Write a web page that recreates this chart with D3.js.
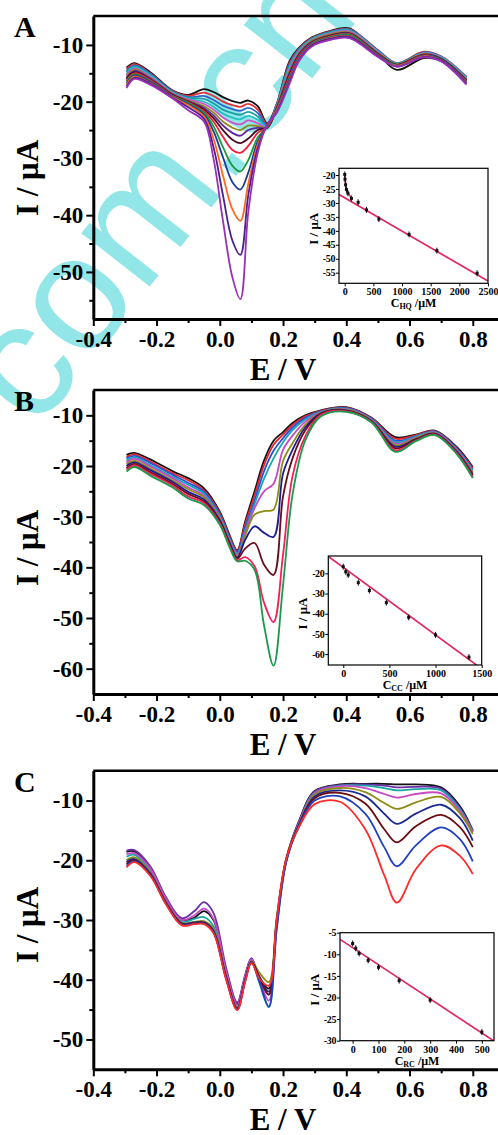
<!DOCTYPE html>
<html>
<head>
<meta charset="utf-8">
<script src="https://cdnjs.cloudflare.com/ajax/libs/d3/7.8.5/d3.min.js"></script>
<style>
  body { margin: 0; background: #fff; }
  text { font-family: "Liberation Serif", "Times New Roman", serif; font-weight: bold; }
</style>
</head>
<body>
<script>
// ---------- data ----------

// panel A : HQ
var eA = [-0.295, -0.27, -0.22, -0.15, -0.10, -0.05, -0.02, 0.01, 0.04, 0.065, 0.09, 0.12, 0.15, 0.18, 0.22, 0.25, 0.29, 0.35, 0.41, 0.50, 0.56, 0.645, 0.70, 0.78];
var iA = [
  [-14.0,-13.2,-14.8,-18.0,-18.8,-17.8,-18.3,-19.2,-19.9,-20.2,-19.8,-20.8,-23.8,-20.4,-12.9,-10.5,-8.7,-7.5,-7.1,-11.6,-14.4,-12.3,-12.8,-16.6],
  [-14.3,-13.4,-15.0,-18.1,-19.0,-18.4,-19.0,-20.0,-20.6,-20.9,-20.4,-21.4,-24.0,-20.5,-13.2,-10.7,-8.8,-7.6,-7.2,-10.9,-13.2,-11.2,-12.0,-15.6],
  [-14.6,-13.6,-15.1,-18.2,-19.2,-19.0,-19.7,-20.7,-21.3,-21.6,-21.1,-22.0,-24.2,-20.6,-13.5,-10.8,-8.9,-7.7,-7.3,-11.0,-13.2,-11.3,-12.1,-15.7],
  [-14.8,-13.8,-15.3,-18.3,-19.3,-19.5,-20.3,-21.4,-22.0,-22.3,-21.8,-22.6,-24.4,-20.7,-13.8,-11.0,-9.0,-7.8,-7.4,-11.1,-13.3,-11.4,-12.2,-15.8],
  [-15.1,-14.0,-15.4,-18.4,-19.5,-20.0,-20.9,-22.1,-22.8,-23.1,-22.5,-23.2,-24.5,-20.8,-14.1,-11.2,-9.1,-7.9,-7.5,-11.2,-13.3,-11.5,-12.2,-15.9],
  [-15.3,-14.2,-15.6,-18.5,-19.6,-20.4,-21.4,-22.8,-23.7,-24.0,-23.3,-23.8,-24.6,-20.9,-14.4,-11.3,-9.2,-8.0,-7.6,-11.3,-13.4,-11.5,-12.3,-16.0],
  [-15.6,-14.4,-15.8,-18.6,-19.8,-20.8,-21.9,-23.5,-24.6,-25.0,-24.2,-24.3,-24.6,-21.0,-14.7,-11.5,-9.3,-8.1,-7.8,-11.4,-13.4,-11.6,-12.4,-16.1],
  [-15.8,-14.6,-15.9,-18.7,-19.9,-21.1,-22.4,-24.2,-25.5,-26.0,-25.0,-24.6,-24.6,-21.1,-15.0,-11.7,-9.5,-8.3,-7.9,-11.5,-13.5,-11.7,-12.4,-16.2],
  [-16.0,-14.8,-16.1,-18.8,-20.0,-21.4,-22.9,-25.0,-26.7,-27.3,-26.5,-25.0,-24.6,-21.2,-15.3,-11.8,-9.6,-8.4,-8.0,-11.6,-13.5,-11.7,-12.5,-16.3],
  [-16.3,-15.0,-16.2,-18.9,-20.1,-21.7,-23.5,-26.2,-28.5,-29.0,-27.8,-25.5,-24.5,-21.3,-15.6,-12.0,-9.7,-8.5,-8.1,-11.7,-13.6,-11.8,-12.6,-16.4],
  [-16.5,-15.2,-16.4,-19.0,-20.2,-22.0,-24.3,-28.0,-31.3,-32.3,-30.3,-26.3,-24.4,-21.4,-15.9,-12.2,-9.8,-8.6,-8.2,-11.8,-13.6,-11.9,-12.6,-16.5],
  [-16.8,-15.4,-16.5,-19.1,-20.4,-22.3,-25.2,-29.8,-34.2,-35.5,-32.5,-27.0,-24.3,-21.5,-16.1,-12.3,-9.9,-8.7,-8.4,-11.9,-13.7,-11.9,-12.7,-16.6],
  [-17.0,-15.6,-16.7,-19.2,-20.6,-22.6,-26.5,-33.0,-39.0,-41.0,-34.5,-27.6,-24.2,-21.6,-16.4,-12.5,-10.0,-8.8,-8.5,-12.0,-13.7,-12.0,-12.8,-16.7],
  [-17.3,-15.8,-16.8,-19.3,-21.0,-23.0,-28.0,-36.5,-44.5,-47.0,-36.5,-28.2,-24.1,-21.8,-16.6,-12.7,-10.1,-8.9,-8.6,-12.0,-13.8,-12.1,-12.8,-16.8],
  [-17.6,-16.0,-17.0,-19.4,-21.5,-23.5,-30.0,-41.0,-51.0,-54.8,-39.5,-29.0,-24.0,-22.0,-16.9,-12.9,-10.3,-9.1,-8.8,-12.1,-13.8,-12.2,-12.9,-17.0]
];
var colorsA = ["#111111", "#e0303a", "#2a6ad0", "#1a9fa5", "#22c0c0", "#d050c8", "#8a8a1a", "#5a2a9a",
  "#4a0a20", "#f0203a", "#1a9a3a", "#1a3a9a", "#ff6a20", "#50208a", "#9a30b8"];

// panel B : CC
var eB = [-0.295, -0.27, -0.22, -0.15, -0.10, -0.05, 0.0, 0.03, 0.055, 0.08, 0.11, 0.14, 0.17, 0.20, 0.23, 0.27, 0.32, 0.40, 0.48, 0.555, 0.62, 0.68, 0.75, 0.80];
var iB = [
  [-17.8,-17.4,-18.7,-21.0,-22.4,-24.4,-29.0,-33.5,-36.6,-31.0,-25.0,-18.9,-15.0,-13.3,-11.5,-10.0,-9.0,-8.4,-10.5,-14.3,-13.8,-13.0,-16.3,-20.2],
  [-18.2,-17.7,-19.1,-21.4,-22.8,-24.8,-29.3,-33.8,-36.8,-31.5,-25.8,-19.8,-15.8,-13.8,-11.9,-10.2,-9.1,-8.5,-10.6,-14.6,-13.9,-13.1,-16.5,-20.4],
  [-18.5,-18.0,-19.4,-21.7,-23.3,-25.1,-29.6,-34.0,-37.0,-32.2,-26.8,-21.0,-17.0,-14.5,-12.4,-10.5,-9.2,-8.6,-10.7,-15.0,-14.1,-13.2,-16.6,-20.7],
  [-18.9,-18.3,-19.8,-22.1,-23.7,-25.5,-29.9,-34.3,-37.3,-32.8,-27.5,-22.5,-18.5,-15.3,-12.9,-10.8,-9.3,-8.7,-10.8,-15.3,-14.2,-13.3,-16.8,-20.9],
  [-19.3,-18.6,-20.1,-22.4,-24.2,-25.9,-30.2,-34.6,-37.6,-33.3,-28.3,-25.0,-23.5,-16.8,-14.0,-11.3,-9.4,-8.8,-10.9,-15.6,-14.4,-13.4,-16.9,-21.2],
  [-19.6,-19.0,-20.5,-22.8,-24.6,-26.2,-30.4,-34.8,-37.9,-33.8,-29.6,-28.9,-28.6,-19.0,-15.5,-11.9,-9.5,-8.9,-11.0,-15.9,-14.5,-13.5,-17.1,-21.4],
  [-20.0,-19.3,-20.8,-23.1,-25.1,-26.6,-30.7,-35.0,-38.1,-34.6,-31.9,-33.2,-34.0,-21.5,-16.8,-12.4,-9.6,-9.0,-11.1,-16.2,-14.7,-13.6,-17.2,-21.7],
  [-20.4,-19.6,-21.2,-23.5,-25.5,-27.0,-31.0,-35.3,-38.3,-36.3,-35.2,-39.5,-41.5,-26.0,-18.5,-13.0,-9.7,-9.1,-11.2,-16.5,-14.8,-13.7,-17.4,-21.9],
  [-20.7,-19.9,-21.5,-23.8,-26.0,-27.3,-31.3,-35.6,-38.6,-38.0,-39.8,-47.0,-50.8,-37.5,-22.0,-14.2,-9.9,-9.2,-11.3,-16.9,-15.0,-13.8,-17.5,-22.2],
  [-21.1,-20.2,-21.9,-24.2,-26.4,-27.7,-31.6,-35.9,-38.8,-38.7,-40.5,-51.5,-59.4,-43.5,-25.7,-15.0,-10.2,-9.3,-11.4,-17.2,-15.1,-13.9,-17.7,-22.4]
];
var colorsB = ["#111111", "#e8252a", "#2850d8", "#1aa5b5", "#c848c8", "#8c8c14", "#1c1c96", "#6a0c1c", "#f0205a", "#1a9a4a"];

// panel C : RC
var eC = [-0.295, -0.27, -0.22, -0.17, -0.12, -0.08, -0.05, -0.02, 0.02, 0.055, 0.08, 0.10, 0.125, 0.155, 0.18, 0.21, 0.25, 0.30, 0.38, 0.46, 0.52, 0.56, 0.62, 0.70, 0.76, 0.80];
var iC = [
  [-18.6,-18.5,-21.3,-26.5,-30.0,-29.6,-28.5,-30.0,-38.5,-44.0,-39.5,-36.6,-39.5,-41.5,-30.0,-19.8,-13.5,-8.4,-7.3,-7.2,-7.2,-7.3,-7.3,-7.8,-11.0,-15.0],
  [-18.4,-18.3,-21.0,-26.2,-29.7,-28.5,-27.0,-28.8,-38.0,-43.8,-39.2,-36.4,-39.8,-42.5,-30.5,-20.0,-13.7,-8.5,-7.4,-7.3,-7.5,-7.8,-7.7,-8.0,-11.3,-15.1],
  [-19.4,-19.1,-21.8,-26.8,-30.3,-29.8,-29.5,-31.0,-39.0,-44.5,-39.8,-36.8,-40.5,-44.6,-31.5,-20.3,-13.9,-8.7,-7.5,-7.5,-7.9,-8.3,-8.1,-8.3,-11.5,-15.2],
  [-19.0,-18.8,-21.4,-26.5,-30.0,-29.2,-28.1,-29.8,-38.5,-44.2,-39.5,-36.6,-40.0,-43.5,-31.0,-20.1,-13.8,-8.8,-7.6,-7.9,-8.9,-9.5,-8.9,-8.8,-11.8,-15.3],
  [-20.0,-19.5,-22.0,-27.0,-30.5,-30.3,-30.2,-31.5,-39.3,-44.7,-40.0,-36.9,-38.8,-40.4,-29.5,-19.7,-14.0,-9.0,-7.9,-8.6,-10.4,-11.4,-10.3,-9.4,-12.2,-15.6],
  [-20.3,-19.8,-22.2,-27.1,-30.6,-30.4,-30.4,-31.8,-39.5,-44.8,-40.1,-37.0,-39.5,-42.0,-30.2,-19.9,-14.1,-9.3,-8.3,-9.3,-12.2,-13.9,-12.2,-10.7,-13.0,-16.7],
  [-20.6,-20.0,-22.4,-27.2,-30.7,-30.5,-30.5,-32.0,-39.7,-44.9,-40.2,-37.0,-39.7,-42.5,-30.5,-20.0,-14.2,-9.6,-8.7,-10.5,-14.8,-17.0,-14.3,-12.4,-14.5,-17.8],
  [-20.9,-20.2,-22.5,-27.3,-30.8,-30.6,-30.6,-32.1,-39.8,-45.0,-40.3,-37.1,-40.3,-44.5,-31.5,-20.3,-14.3,-10.0,-9.3,-12.2,-17.8,-21.0,-17.5,-14.5,-16.5,-20.2],
  [-21.2,-20.3,-22.6,-27.4,-30.9,-30.7,-30.7,-32.2,-40.0,-45.1,-40.4,-37.2,-39.8,-41.0,-29.8,-19.8,-14.5,-10.6,-10.2,-14.8,-22.5,-27.1,-21.5,-17.5,-19.3,-22.3]
];
var colorsC = ["#111111", "#6a30a8", "#1aa5a5", "#c848c8", "#8c8c14", "#1c2a90", "#6a0c10", "#2040c0", "#ff2a2a"];

// axis ticks of the big panels
var xTicks = [-0.4, -0.2, 0.0, 0.2, 0.4, 0.6, 0.8];
var xMinor = [-0.3, -0.1, 0.1, 0.3, 0.5, 0.7];
var yTicksA = [-10, -20, -30, -40, -50];
var yMinorA = [-15, -25, -35, -45, -55];
var yTicksB = [-10, -20, -30, -40, -50, -60];
var yMinorB = [-15, -25, -35, -45, -55];
var yTicksC = [-10, -20, -30, -40, -50];
var yMinorC = [-15, -25, -35, -45];

// insets (calibration plots)
var hqConc = [117, 234, 380, 596, 1123, 1608, 2310];
var hqCurrent = [-28.4, -29.8, -32.5, -35.8, -41.3, -47.1, -55.2];
var hqLowConc = [0, 5, 15, 30, 55];
var hqLowCurrent = [-19.8, -21.5, -23.5, -25.2, -26.5];
var hqLowFitConc = [0, 10, 25, 50, 80, 120];
var hqLowFitCurrent = [-19.5, -22.5, -24.5, -26.0, -27.2, -28.2];
var hqFitConc = [-100, 2500];
var hqFitCurrent = [-27.0, -58.0];
var hqXTicks = [0, 500, 1000, 1500, 2000, 2500];
var hqYTicks = [-20, -25, -30, -35, -40, -45, -50, -55];

var ccConc = [0, 27, 54, 163, 283, 467, 709, 1000, 1362];
var ccCurrent = [-16.7, -19.2, -20.8, -24.6, -28.5, -34.5, -41.8, -50.5, -61.5];
var ccFitConc = [-162, 1450];
var ccFitCurrent = [-11.6, -65.6];
var ccXTicks = [0, 500, 1000, 1500];
var ccYTicks = [-20, -30, -40, -50, -60];

var rcConc = [0, 12, 25, 60, 100, 180, 300, 500];
var rcCurrent = [-7.5, -8.6, -9.8, -11.4, -13.0, -16.1, -20.6, -28.0];
var rcFitConc = [-50, 545];
var rcFitCurrent = [-6.5, -30.0];
var rcXTicks = [0, 100, 200, 300, 400, 500];
var rcYTicks = [-5, -10, -15, -20, -25, -30];

// ---------- drawing ----------
var W = 498, H = 1135;
var svg = d3.select("body").append("svg").attr("width", W).attr("height", H);
svg.append("rect").attr("width", W).attr("height", H).attr("fill", "#fff");

// watermark of the source page
svg.append("text")
  .attr("transform", "translate(36,432) rotate(-52)")
  .attr("font-size", 164)
  .style("font-family", "'Liberation Sans', Arial, sans-serif")
  .style("font-weight", "normal")
  .attr("fill", "#92e6e8")
  .text("com.cn");

var fit = "#e0285e";
var clipId = 0;

function drawPanel(p) {
  var x = d3.scaleLinear().domain([-0.4, 0.9]).range([93.3, 504.4]);
  var y = d3.scaleLinear().domain(p.yDomain).range([p.bottom, p.top]);
  var g = svg.append("g");

  var line = d3.line()
    .x(function(d) { return x(d[0]); })
    .y(function(d) { return y(d[1]); })
    .curve(d3.curveCatmullRom.alpha(0.5));

  g.selectAll("path.curve")
    .data(p.curves)
    .enter().append("path")
    .attr("class", "curve")
    .attr("d", function(c) {
      return line(p.e.map(function(e, i) { return [e, c[i]]; }));
    })
    .attr("fill", "none")
    .attr("stroke", function(c, i) { return p.colors[i]; })
    .attr("stroke-width", 1.8);

  // top frame line
  g.append("line")
    .attr("x1", x(-0.4)).attr("x2", W)
    .attr("y1", p.top).attr("y2", p.top)
    .attr("stroke", "#000").attr("stroke-width", 2.5);

  // x axis
  var gx = g.append("g")
    .attr("transform", "translate(0," + p.bottom + ")")
    .call(d3.axisBottom(x).tickValues(xTicks).tickSize(7).tickSizeOuter(0)
      .tickFormat(function(d) { return d.toFixed(1); }));
  gx.attr("font-size", 23);
  gx.select(".domain").attr("stroke-width", 3);
  gx.selectAll(".tick line").attr("stroke-width", 2);
  gx.selectAll(".tick text").attr("y", 28).attr("dy", null).attr("fill", "#000");

  g.append("g")
    .attr("transform", "translate(0," + p.bottom + ")")
    .call(d3.axisBottom(x).tickValues(xMinor).tickSize(4).tickFormat(""))
    .call(function(s) { s.select(".domain").remove(); })
    .selectAll(".tick line").attr("stroke-width", 2);

  // y axis
  var gy = g.append("g")
    .attr("transform", "translate(" + x(-0.4) + ",0)")
    .call(d3.axisLeft(y).tickValues(p.yTicks).tickSize(7).tickSizeOuter(0)
      .tickFormat(function(d) { return String(d); }));
  gy.attr("font-size", 23);
  gy.select(".domain").attr("stroke-width", 3);
  gy.selectAll(".tick line").attr("stroke-width", 2);
  gy.selectAll(".tick text").attr("x", -10).attr("fill", "#000");

  g.append("g")
    .attr("transform", "translate(" + x(-0.4) + ",0)")
    .call(d3.axisLeft(y).tickValues(p.yMinor).tickSize(4).tickFormat(""))
    .call(function(s) { s.select(".domain").remove(); })
    .selectAll(".tick line").attr("stroke-width", 2);

  // titles
  g.append("text")
    .attr("x", 283).attr("y", p.bottom + 61)
    .attr("text-anchor", "middle").attr("font-size", 31)
    .text("E / V");

  g.append("text")
    .attr("transform", "translate(38," + p.labelY + ") rotate(-90)")
    .attr("text-anchor", "middle").attr("font-size", 31)
    .text("I / \u03bcA");

  g.append("text")
    .attr("x", 14).attr("y", p.top + 21)
    .attr("font-size", 30)
    .text(p.letter);
}

function drawInset(q) {
  var x = d3.scaleLinear().domain(q.xDomain).range([q.left, q.right]);
  var y = d3.scaleLinear().domain(q.yDomain).range([q.bottom, q.top]);
  var g = svg.append("g");
  var id = "clip" + (clipId++);

  g.append("clipPath").attr("id", id)
    .append("rect")
    .attr("x", q.left).attr("y", q.top)
    .attr("width", q.right - q.left).attr("height", q.bottom - q.top);

  g.append("rect")
    .attr("x", q.left).attr("y", q.top)
    .attr("width", q.right - q.left).attr("height", q.bottom - q.top)
    .attr("fill", "#fff");

  var line = d3.line()
    .x(function(d) { return x(d[0]); })
    .y(function(d) { return y(d[1]); });

  var plot = g.append("g").attr("clip-path", "url(#" + id + ")");

  q.fits.forEach(function(f) {
    plot.append("path")
      .attr("d", line.curve(f.smooth ? d3.curveCatmullRom : d3.curveLinear)(f.x.map(function(v, i) { return [v, f.y[i]]; })))
      .attr("fill", "none").attr("stroke", fit).attr("stroke-width", 1.7);
  });

  q.points.forEach(function(s) {
    var pts = s.x.map(function(v, i) { return [v, s.y[i]]; });
    plot.selectAll(null).data(pts).enter().append("line")
      .attr("x1", function(d) { return x(d[0]); })
      .attr("x2", function(d) { return x(d[0]); })
      .attr("y1", function(d) { return y(d[1]) - 3; })
      .attr("y2", function(d) { return y(d[1]) + 3; })
      .attr("stroke", "#111").attr("stroke-width", 1);
    plot.selectAll(null).data(pts).enter().append("rect")
      .attr("x", function(d) { return x(d[0]) - 1.5; })
      .attr("y", function(d) { return y(d[1]) - 1.5; })
      .attr("width", 3).attr("height", 3)
      .attr("fill", "#111");
  });

  g.append("rect")
    .attr("x", q.left).attr("y", q.top)
    .attr("width", q.right - q.left).attr("height", q.bottom - q.top)
    .attr("fill", "none").attr("stroke", "#000").attr("stroke-width", 1.2);

  var gx = g.append("g")
    .attr("transform", "translate(0," + q.bottom + ")")
    .call(d3.axisBottom(x).tickValues(q.xTicks).tickSize(3).tickSizeOuter(0)
      .tickFormat(function(d) { return String(d); }));
  gx.attr("font-size", 10);
  gx.select(".domain").remove();
  gx.selectAll(".tick text").attr("y", 12).attr("dy", null).attr("fill", "#000");

  var gy = g.append("g")
    .attr("transform", "translate(" + q.left + ",0)")
    .call(d3.axisLeft(y).tickValues(q.yTicks).tickSize(3).tickSizeOuter(0)
      .tickFormat(function(d) { return String(d); }));
  gy.attr("font-size", 10);
  gy.select(".domain").remove();
  gy.selectAll(".tick text").attr("x", -4).attr("fill", "#000").attr("letter-spacing", -0.4);

  var t = g.append("text")
    .attr("x", (q.left + q.right) / 2).attr("y", q.bottom + 24)
    .attr("text-anchor", "middle").attr("font-size", 12);
  t.append("tspan").text("C");
  t.append("tspan").attr("font-size", 8).attr("dy", 2).text(q.sub);
  t.append("tspan").attr("dy", -2).text(" /\u03bcM");

  g.append("text")
    .attr("transform", "translate(" + (q.left - 21) + "," + ((q.top + q.bottom) / 2 + 3) + ") rotate(-90)")
    .attr("text-anchor", "middle").attr("font-size", 13)
    .text("I / \u03bcA");
}

drawPanel({ letter: "A", e: eA, curves: iA, colors: colorsA, yDomain: [-58.3, -4.9], top: 16, bottom: 319,
  yTicks: yTicksA, yMinor: yMinorA, labelY: 178 });
drawPanel({ letter: "B", e: eB, curves: iB, colors: colorsB, yDomain: [-65, -5], top: 390, bottom: 694,
  yTicks: yTicksB, yMinor: yMinorB, labelY: 548 });
drawPanel({ letter: "C", e: eC, curves: iC, colors: colorsC, yDomain: [-55, -5], top: 770.7, bottom: 1069.3,
  yTicks: yTicksC, yMinor: yMinorC, labelY: 925 });

drawInset({ left: 339, right: 488, top: 168.3, bottom: 283.3, xDomain: [-100, 2500], yDomain: [-58.8, -17.6],
  xTicks: hqXTicks, yTicks: hqYTicks, sub: "HQ",
  fits: [{ x: hqFitConc, y: hqFitCurrent }, { x: hqLowFitConc, y: hqLowFitCurrent, smooth: true }],
  points: [{ x: hqConc, y: hqCurrent }, { x: hqLowConc, y: hqLowCurrent }] });
drawInset({ left: 328.3, right: 481.7, top: 556, bottom: 665, xDomain: [-162, 1500], yDomain: [-65.4, -11.4],
  xTicks: ccXTicks, yTicks: ccYTicks, sub: "CC",
  fits: [{ x: ccFitConc, y: ccFitCurrent }],
  points: [{ x: ccConc, y: ccCurrent }] });
drawInset({ left: 340, right: 494, top: 932.7, bottom: 1040.7, xDomain: [-49, 547], yDomain: [-30, -5],
  xTicks: rcXTicks, yTicks: rcYTicks, sub: "RC",
  fits: [{ x: rcFitConc, y: rcFitCurrent }],
  points: [{ x: rcConc, y: rcCurrent }] });
</script>
</body>
</html>
